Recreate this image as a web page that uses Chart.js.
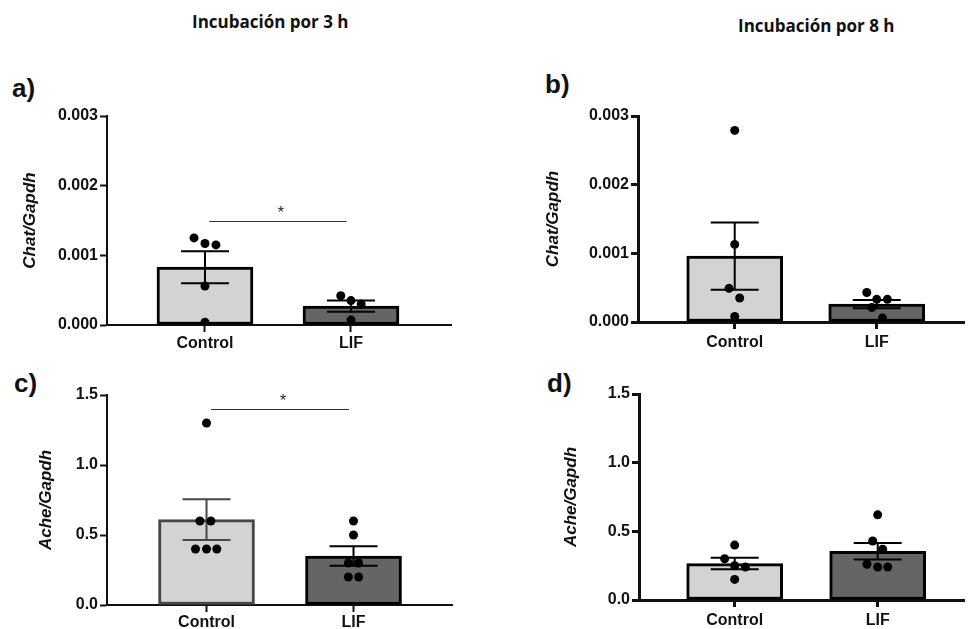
<!DOCTYPE html>
<html lang="es">
<head>
<meta charset="utf-8">
<title>Chat/Gapdh y Ache/Gapdh</title>
<script src="https://cdn.jsdelivr.net/npm/chart.js@4.4.1/dist/chart.umd.min.js"></script>
<style>
    body { margin: 0; background: #fff; }
    #pagina { position: relative; width: 969px; height: 629px; overflow: hidden; font-family: "Liberation Sans", Arial, sans-serif; }
    canvas { position: absolute; }
    .titulo { position: absolute; font-family: "Open Sans", sans-serif; font-weight: 700; font-size: 17px; line-height: 20px; color: #111; white-space: nowrap; }
    .letra { position: absolute; font-weight: 700; font-size: 26px; line-height: 26px; color: #111; }
</style>
</head>
<body>
<div id="pagina">
    <div class="titulo" style="left:192px; top:12px;">Incubación por 3 h</div>
    <div class="titulo" style="left:738px; top:16px;">Incubación por 8 h</div>
    <div class="letra" style="left:12px; top:75px;">a)</div>
    <div class="letra" style="left:545px; top:71px;">b)</div>
    <div class="letra" style="left:14px; top:370px;">c)</div>
    <div class="letra" style="left:547px; top:370px;">d)</div>
    <canvas id="graficoA" width="460" height="305" style="left:0; top:60px;"></canvas>
    <canvas id="graficoB" width="449" height="302" style="left:520px; top:60px;"></canvas>
    <canvas id="graficoC" width="460" height="285" style="left:0; top:360px;"></canvas>
    <canvas id="graficoD" width="449" height="280" style="left:520px; top:360px;"></canvas>
</div>
<script>
var categorias = ['Control', 'LIF'];
var ticksChat = [0, 0.001, 0.002, 0.003];
var ticksAche = [0, 0.5, 1.0, 1.5];

// a) Chat/Gapdh, 3 h
var chat3hControl = [0.00125, 0.00117, 0.00115, 0.00056, 0.00004];
var chat3hLif = [0.00042, 0.00035, 0.00030, 0.00007];
var chat3hMedia = [0.00083, 0.00027];
var chat3hSem = [0.00023, 0.00008];
var chat3hSig = 0.0015;

// b) Chat/Gapdh, 8 h
var chat8hControl = [0.00279, 0.00113, 0.00049, 0.00035, 0.00008];
var chat8hLif = [0.00043, 0.00033, 0.00033, 0.00021, 0.00006];
var chat8hMedia = [0.00096, 0.00026];
var chat8hSem = [0.00049, 0.00006];

// c) Ache/Gapdh, 3 h
var ache3hControl = [1.30, 0.60, 0.60, 0.40, 0.40, 0.40];
var ache3hLif = [0.60, 0.50, 0.30, 0.30, 0.20, 0.20];
var ache3hMedia = [0.61, 0.35];
var ache3hSem = [0.145, 0.07];
var ache3hSig = 1.4;

// d) Ache/Gapdh, 8 h
var ache8hControl = [0.40, 0.30, 0.25, 0.24, 0.15];
var ache8hLif = [0.62, 0.43, 0.37, 0.26, 0.24, 0.24];
var ache8hMedia = [0.265, 0.355];
var ache8hSem = [0.042, 0.06];

// separacion horizontal de los puntos dentro de cada grupo
var dispA = [[-0.075, 0, 0.075, 0, 0], [-0.07, 0, 0.07, 0]];
var dispB = [[0, 0, -0.04, 0.035, 0], [-0.07, 0, 0.075, -0.035, 0.04]];
var dispC = [[0, -0.045, 0.03, -0.075, 0, 0.07], [0, 0, -0.035, 0.035, -0.035, 0.035]];
var dispD = [[0, -0.07, 0, 0.075, 0], [0, -0.035, 0.035, -0.075, 0, 0.07]];

var fuente = '"Liberation Sans", Arial, sans-serif';

function extras(p) {
    return {
        id: 'extras',
        afterDatasetDraw: function (chart, args) {
            if (args.meta.type !== 'bar') return;
            var ctx = chart.ctx, x = chart.scales.x, y = chart.scales.y;
            for (var i = 0; i < p.media.length; i++) {
                var cx = x.getPixelForValue(i);
                var arriba = y.getPixelForValue(p.media[i] + p.sem[i]);
                var abajo = y.getPixelForValue(p.media[i] - p.sem[i]);
                ctx.save();
                ctx.strokeStyle = p.bordes[i];
                ctx.lineWidth = 2;
                ctx.beginPath();
                ctx.moveTo(cx, arriba); ctx.lineTo(cx, abajo);
                ctx.moveTo(cx - 24, arriba); ctx.lineTo(cx + 24, arriba);
                ctx.moveTo(cx - 24, abajo); ctx.lineTo(cx + 24, abajo);
                ctx.stroke();
                ctx.restore();
            }
        },
        afterDraw: function (chart) {
            if (p.sig === undefined) return;
            var ctx = chart.ctx, x = chart.scales.x, y = chart.scales.y;
            var yy = Math.round(y.getPixelForValue(p.sig)) + 0.5;
            var x0 = x.getPixelForValue(0.03), x1 = x.getPixelForValue(0.97);
            ctx.save();
            ctx.strokeStyle = '#333';
            ctx.lineWidth = 1;
            ctx.beginPath();
            ctx.moveTo(x0, yy); ctx.lineTo(x1, yy);
            ctx.stroke();
            ctx.fillStyle = '#222';
            ctx.font = '16px ' + fuente;
            ctx.textAlign = 'center';
            ctx.textBaseline = 'middle';
            ctx.fillText('*', (x0 + x1) / 2 + 3, yy - 8);
            ctx.restore();
        }
    };
}

function crearPanel(id, p) {
    var puntos = [];
    [p.control, p.lif].forEach(function (grupo, g) {
        grupo.forEach(function (v, k) {
            puntos.push({ x: g + p.disp[g][k], y: v });
        });
    });

    var ejes = {
        color: '#111',
        width: p.eje
    };
    var rejilla = {
        drawOnChartArea: false,
        drawTicks: true,
        tickLength: 7,
        tickWidth: p.eje,
        tickColor: '#111',
        offset: false
    };

    var ctx = document.getElementById(id).getContext('2d');
    return new Chart(ctx, {
        type: 'bar',
        data: {
            datasets: [
                {
                    type: 'bar',
                    data: p.media.map(function (m, i) { return { x: i, y: m }; }),
                    backgroundColor: ['#d3d3d3', '#656565'],
                    borderColor: p.bordes,
                    borderWidth: 3,
                    borderSkipped: false,
                    barThickness: 96,
                    order: 2
                },
                {
                    type: 'scatter',
                    data: puntos,
                    pointRadius: 4.5,
                    pointBackgroundColor: '#000',
                    pointBorderWidth: 0,
                    order: 1
                }
            ]
        },
        options: {
            responsive: false,
            animation: false,
            layout: { padding: { top: p.padTop, right: p.padRight, left: 0, bottom: 0 } },
            plugins: { legend: { display: false }, tooltip: { enabled: false } },
            scales: {
                x: {
                    type: 'linear',
                    min: p.xMin,
                    max: p.xMax,
                    offset: false,
                    afterBuildTicks: function (s) { s.ticks = [{ value: 0 }, { value: 1 }]; },
                    afterFit: function (s) { s.height = 40; },
                    ticks: {
                        callback: function (v) { return categorias[v]; },
                        color: '#111',
                        font: { family: fuente, size: 16, weight: 'bold' },
                        padding: p.padX,
                        maxRotation: 0,
                        autoSkip: false
                    },
                    grid: rejilla,
                    border: ejes
                },
                y: {
                    min: p.ticksY[0],
                    max: p.ticksY[p.ticksY.length - 1],
                    afterBuildTicks: function (s) {
                        s.ticks = p.ticksY.map(function (v) { return { value: v }; });
                    },
                    afterFit: function (s) { s.width = p.anchoY; },
                    ticks: {
                        callback: function (v) { return v.toFixed(p.decimales); },
                        color: '#111',
                        font: { family: fuente, size: 16, weight: 'bold' },
                        padding: 2
                    },
                    grid: rejilla,
                    border: ejes,
                    title: {
                        display: true,
                        text: p.tituloY,
                        color: '#111',
                        font: { family: fuente, size: 17, weight: 'bold', style: 'italic' },
                        padding: { top: p.padTitulo, bottom: 0 }
                    }
                }
            }
        },
        plugins: [extras(p)]
    });
}

crearPanel('graficoA', {
    control: chat3hControl, lif: chat3hLif, media: chat3hMedia, sem: chat3hSem, sig: chat3hSig,
    disp: dispA, ticksY: ticksChat, decimales: 3, tituloY: 'Chat/Gapdh',
    bordes: ['#000', '#000'], eje: 2, anchoY: 107, padTop: 56, padRight: 9, padTitulo: 20, padX: 2,
    xMin: -0.671, xMax: 1.685
});

crearPanel('graficoB', {
    control: chat8hControl, lif: chat8hLif, media: chat8hMedia, sem: chat8hSem,
    disp: dispB, ticksY: ticksChat, decimales: 3, tituloY: 'Chat/Gapdh',
    bordes: ['#000', '#000'], eje: 3, anchoY: 118, padTop: 56, padRight: 0, padTitulo: 23, padX: 4,
    xMin: -0.681, xMax: 1.618
});

crearPanel('graficoC', {
    control: ache3hControl, lif: ache3hLif, media: ache3hMedia, sem: ache3hSem, sig: ache3hSig,
    disp: dispC, ticksY: ticksAche, decimales: 1, tituloY: 'Ache/Gapdh',
    bordes: ['#474747', '#000'], eje: 2, anchoY: 107, padTop: 35, padRight: 8, padTitulo: 36, padX: 1,
    xMin: -0.677, xMax: 1.67
});

crearPanel('graficoD', {
    control: ache8hControl, lif: ache8hLif, media: ache8hMedia, sem: ache8hSem,
    disp: dispD, ticksY: ticksAche, decimales: 1, tituloY: 'Ache/Gapdh',
    bordes: ['#000', '#000'], eje: 3, anchoY: 119, padTop: 34, padRight: 0, padTitulo: 41, padX: 4,
    xMin: -0.669, xMax: 1.607
});
</script>
</body>
</html>
